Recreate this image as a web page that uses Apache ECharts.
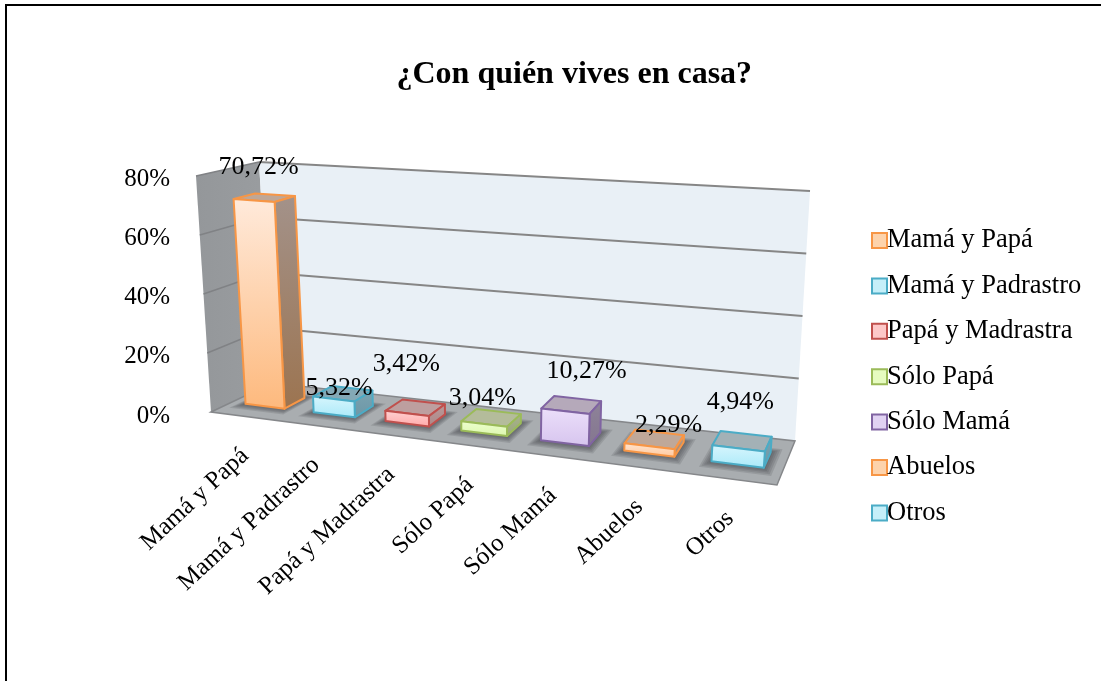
<!DOCTYPE html>
<html>
<head>
<meta charset="utf-8">
<style>html,body{margin:0;padding:0;background:#fff}#c{width:1101px;height:681px}</style>
<script src="https://cdn.jsdelivr.net/npm/echarts@6/dist/echarts.min.js"></script>
</head>
<body>
<div id="c"></div>
<script>
var categories = ['Mamá y Papá','Mamá y Padrastro','Papá y Madrastra','Sólo Papá','Sólo Mamá','Abuelos','Otros'];
var values = [70.72,5.32,3.42,3.04,10.27,2.29,4.94];
var valueTicks = [0,20,40,60,80];

var FONT = 'Liberation Serif';
var strokes = ['#f79646','#4bacc6','#c0504d','#9bbb59','#8064a2','#f79646','#4bacc6'];
var frontTop = ['#ffeadb','#d8f6fd','#ffd3d3','#eeffd0','#ecdffa','#ffe6d2','#d8f6fd'];
var frontBot = ['#fdb97d','#a9e9f9','#ffa8a8','#dcf7ad','#d6c4ee','#ffc79c','#a9e9f9'];
var legendFill = ['#fdd3ac','#c5eff9','#fdc8c8','#e6fbc0','#e0d2f2','#fdd3ac','#c5eff9'];
var topCol   = ['#bfa797','#84a9b6','#bd9f9f','#b4bc9b','#b5a9ba','#bfa899','#a3b1b6'];
var sideTop  = ['#a3928a','#7ba3b1','#b99a9a','#a9b38d','#8e8399','#b39a88','#7ba3b1'];
var sideBot  = ['#9c7450','#6d97a6','#ad8787','#98a67b','#84768f','#a68a74','#6d97a6'];
var labelShift = [[-6,-30],[-4,-5],[-9,-44],[-9,-20],[15,-34],[14,-14],[-2,-39]];
var haloSteps = [1,0.8,0.6,0.4,0.2];

var GRID = {left:211, top:179, width:566, height:237};
// Perspective box: [front/back][bottom/top][left/right] projected corners
var FBL=[211,412],FBR=[777,485],BBL=[272,383],BBR=[795,441],
    FTL=[196,176],FTR=[796,218],BTL=[259,162],BTR=[810,191];
var WARP=0.17, D_FRONT=0.34, D_BACK=0.69, BAR_FRAC=0.58, LABEL_ROT=43*Math.PI/180;

function mix(a,b,t){return [a[0]+(b[0]-a[0])*t,a[1]+(b[1]-a[1])*t];}
function proj(u,v,d){
  var w=u-WARP*u*(1-u);
  var bot=mix(mix(FBL,FBR,w),mix(BBL,BBR,w),d);
  var top=mix(mix(FTL,FTR,w),mix(BTL,BTR,w),d);
  return mix(bot,top,v);
}
function uvOf(pt){return [(pt[0]-GRID.left)/GRID.width,(GRID.top+GRID.height-pt[1])/GRID.height];}
function grad(a,b){return new echarts.graphic.LinearGradient(0,0,0,1,[{offset:0,color:a},{offset:1,color:b}]);}
function poly(pts,style,z2){return {type:'polygon',shape:{points:pts},style:style,z2:z2||0};}

function barRender(idx){
  return function(params,api){
    var uv=uvOf(api.coord([api.value(0),api.value(1)]));
    var uv0=uvOf(api.coord([api.value(0),0]));
    var hw=api.size([1,0])[0]/GRID.width*BAR_FRAC/2;
    var a=uv[0]-hw,b=uv[0]+hw,v=uv[1],v0=uv0[1];
    var f=D_FRONT,k=D_BACK;
    var s=strokes[idx];
    function st(fill){return {fill:fill,stroke:s,lineWidth:2,lineJoin:'round'};}
    var p=proj;
    var topC=[p(a,v,f),p(b,v,f),p(b,v,k),p(a,v,k)];
    var cx=(topC[0][0]+topC[1][0]+topC[2][0]+topC[3][0])/4;
    var cy=(topC[0][1]+topC[1][1]+topC[2][1]+topC[3][1])/4;
    var footPt=proj(uv[0],0,0);
    var halo=haloSteps.map(function(e){
      return poly([p(a-.014*e,v0,f-.16*e),p(b+.016*e,v0,f-.16*e),p(b+.016*e,v0,k+.1*e),p(a-.014*e,v0,k+.1*e)],
        {fill:'rgba(55,55,58,0.15)'},0);
    });
    return {type:'group',children:halo.concat([
      poly(topC,st(topCol[idx]),1),
      poly([p(b,v0,f),p(b,v0,k),p(b,v,k),p(b,v,f)],st(grad(sideTop[idx],sideBot[idx])),1),
      poly([p(a,v0,f),p(b,v0,f),p(b,v,f),p(a,v,f)],st(grad(frontTop[idx],frontBot[idx])),2),
      {type:'text',z2:5,x:cx+labelShift[idx][0],y:cy+labelShift[idx][1],
        style:{text:String(values[idx].toFixed(2)).replace('.',',')+'%',align:'center',verticalAlign:'middle',
               fill:'#000',font:'26px "'+FONT+'"'}},
      {type:'text',z2:5,x:footPt[0],y:footPt[1]+36,rotation:LABEL_ROT,
        style:{text:categories[idx],align:'right',verticalAlign:'middle',fill:'#000',font:'25px "'+FONT+'"'}}
    ])};
  };
}

function wallsRender(){
  return {type:'group',children:[
    poly([FBL,FTL,BTL,BBL],{fill:new echarts.graphic.LinearGradient(0,0,1,0,[{offset:0,color:'#94979a'},{offset:1,color:'#9a9da0'}])}),
    poly([BBL,BTL,BTR,BBR],{fill:'#e9f0f6'}),
    poly([FBL,BBL,BBR,FBR],{fill:'#a9adb0',stroke:'#85878a',lineWidth:1.5})
  ]};
}
function gridRender(params,api){
  var v=uvOf(api.coord([0,api.value(0)]))[1];
  if(v<=0.001) return {type:'group',children:[]};
  var a=proj(0,v,0),b=proj(0,v,1),c=proj(1,v,1);
  var lineStyle={stroke:'#868686',lineWidth:2,fill:null};
  var lineLeft={stroke:'#808285',lineWidth:1.5,fill:null};
  return {type:'group',children:[
    {type:'line',shape:{x1:a[0],y1:a[1],x2:b[0],y2:b[1]},style:lineLeft},
    {type:'line',shape:{x1:b[0],y1:b[1],x2:c[0],y2:c[1]},style:lineStyle}
  ]};
}

var series=[
  {name:'__walls',type:'custom',renderItem:wallsRender,data:[[0,0]],encode:{x:0,y:1},z:1,silent:true},
  {name:'__grid',type:'custom',renderItem:gridRender,data:valueTicks.map(function(t){return [t];}),encode:{y:0},z:2,silent:true}
];
categories.forEach(function(name,i){
  series.push({name:name,type:'custom',renderItem:barRender(i),data:[[i,values[i]]],encode:{x:0,y:1},z:3+i,silent:true,itemStyle:{color:strokes[i]}});
});

var chart=echarts.init(document.getElementById('c'),null,{renderer:'canvas'});
chart.setOption({
  animation:false,
  backgroundColor:'#fff',
  title:{text:'¿Con quién vives en casa?',left:391.5,top:54,textStyle:{fontFamily:FONT,fontSize:32,fontWeight:'bold',color:'#000'}},
  legend:{orient:'vertical',left:866,top:222,itemWidth:15,itemHeight:15,itemGap:18.4,selectedMode:false,
    textStyle:{fontFamily:FONT,fontSize:26.5,color:'#000',padding:[0,0,0,-5]},
    data:categories.map(function(n,i){return {name:n,icon:'rect',itemStyle:{color:legendFill[i],borderColor:strokes[i],borderWidth:2}};})},
  grid:{left:GRID.left,top:GRID.top,width:GRID.width,height:GRID.height},
  xAxis:{type:'category',data:categories,axisLine:{show:false},axisTick:{show:false},axisLabel:{show:false},splitLine:{show:false}},
  yAxis:{type:'value',min:0,max:80,interval:20,axisLine:{show:false},axisTick:{show:false},splitLine:{show:false},
    axisLabel:{formatter:'{value}%',margin:41,fontFamily:FONT,fontSize:25,color:'#000'}},
  graphic:[{type:'rect',z:0,silent:true,shape:{x:6,y:5,width:1300,height:900},style:{fill:'none',stroke:'#000',lineWidth:2}}],
  series:series
});
</script>
</body>
</html>
